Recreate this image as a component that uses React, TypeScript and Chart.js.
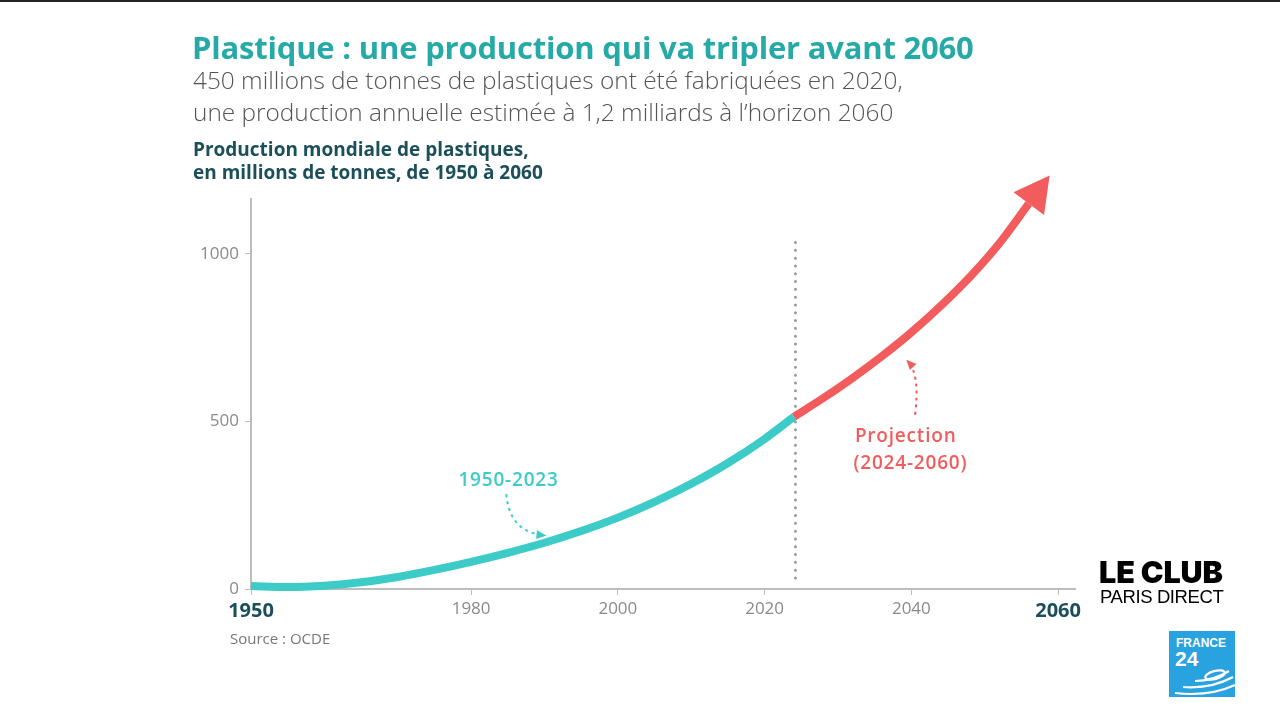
import React, { useEffect, useRef } from "react";
import { Chart, registerables } from "chart.js";

Chart.register(...registerables);

// ---- data ----
const histYears = [1950, 1955, 1960, 1965, 1970, 1975, 1980, 1985, 1990, 1995, 2000, 2005, 2010, 2015, 2020, 2024];
const histProd = [9, 6, 10, 20, 36, 57, 81, 108, 138, 173, 213, 260, 314, 376, 448, 514];
const projYears = [2024, 2028, 2032, 2036, 2040, 2044, 2048, 2052, 2056];
const projProd = [514, 570, 630, 695, 766, 845, 932, 1032, 1150];
const xTickYears = [1950, 1980, 2000, 2020, 2040, 2060];
const boldTickYears = [1950, 2060];
const yTickValues = [0, 500, 1000];
const splitYear = 2024.2;
const splitRange = [33, 1048];

const TEAL = "#3ccbc6";
const RED = "#f25c5c";
const DARK = "#1b4f5a";
const GRAY_TICK = "#8a8a8a";

const annotationPlugin = {
  id: "annotations",
  afterDatasetsDraw(chart: any) {
    const { ctx } = chart;
    const xs = chart.scales.x;
    const ys = chart.scales.y;
    const px = (v: number) => xs.getPixelForValue(v);
    const py = (v: number) => ys.getPixelForValue(v);

    // arrow head on projection
    const meta = chart.getDatasetMeta(1);
    const pts = meta.data;
    const last = pts[pts.length - 1];
    const fx = last.cp1x !== undefined ? last.cp1x : pts[pts.length - 2].x;
    const fy = last.cp1y !== undefined ? last.cp1y : pts[pts.length - 2].y;
    let dx = last.x - fx;
    let dy = last.y - fy;
    const len = Math.hypot(dx, dy) || 1;
    dx /= len;
    dy /= len;
    const L = 35;
    const W = 19;
    ctx.save();
    ctx.fillStyle = RED;
    ctx.beginPath();
    ctx.moveTo(last.x + dx * L, last.y + dy * L);
    ctx.lineTo(last.x - dy * W, last.y + dx * W);
    ctx.lineTo(last.x + dy * W, last.y - dx * W);
    ctx.closePath();
    ctx.fill();
    ctx.restore();

    const curvedArrow = (
      color: string,
      sx: number, sy: number,
      cx: number, cy: number,
      ex: number, ey: number
    ) => {
      ctx.save();
      ctx.strokeStyle = color;
      ctx.fillStyle = color;
      ctx.lineWidth = 2;
      ctx.setLineDash([3, 4]);
      ctx.beginPath();
      ctx.moveTo(sx, sy);
      ctx.quadraticCurveTo(cx, cy, ex, ey);
      ctx.stroke();
      ctx.setLineDash([]);
      let ax = ex - cx;
      let ay = ey - cy;
      const al = Math.hypot(ax, ay) || 1;
      ax /= al;
      ay /= al;
      const h = 8;
      const w = 4.5;
      ctx.beginPath();
      ctx.moveTo(ex + ax * 2, ey + ay * 2);
      ctx.lineTo(ex - ax * h - ay * w, ey - ay * h + ax * w);
      ctx.lineTo(ex - ax * h + ay * w, ey - ay * h - ax * w);
      ctx.closePath();
      ctx.fill();
      ctx.restore();
    };

    ctx.save();
    ctx.textBaseline = "middle";
    ctx.font = "600 19px 'Open Sans'";
    (ctx as any).letterSpacing = "0.8px";
    ctx.textAlign = "center";
    ctx.fillStyle = TEAL;
    ctx.fillText("1950-2023", px(1985.1), py(325));
    ctx.textAlign = "left";
    ctx.fillStyle = RED;
    ctx.fillText("Projection", px(2032.3), py(454));
    ctx.fillText("(2024-2060)", px(2032.1), py(373));
    ctx.restore();

    // 1950-2023 pointer
    curvedArrow(TEAL, px(1984.8), py(283), px(1985.2), py(170), px(1990.0), py(160));
    // projection pointer
    curvedArrow(RED, px(2040.5), py(520), px(2041.2), py(640), px(2039.5), py(680));
  },
};

function ChartCanvas() {
  const ref = useRef<HTMLCanvasElement | null>(null);
  useEffect(() => {
    if (!ref.current) return;
    const chart = new Chart(ref.current, {
      type: "line",
      data: {
        datasets: [
          {
            data: histYears.map((x, i) => ({ x, y: histProd[i] })),
            borderColor: TEAL,
            borderWidth: 8,
            pointRadius: 0,
            cubicInterpolationMode: "monotone",
            borderCapStyle: "butt",
            clip: false as any,
          },
          {
            data: projYears.map((x, i) => ({ x, y: projProd[i] })),
            borderColor: RED,
            borderWidth: 8,
            pointRadius: 0,
            cubicInterpolationMode: "monotone",
            borderCapStyle: "butt",
            clip: false as any,
          },
          {
            data: [
              { x: splitYear, y: splitRange[0] },
              { x: splitYear, y: splitRange[1] },
            ],
            borderColor: "#9a9a9a",
            borderWidth: 3,
            borderDash: [0, 7.8],
            borderCapStyle: "round",
            pointRadius: 0,
          },
        ],
      },
      options: {
        responsive: false,
        animation: false,
        events: [],
        layout: { padding: { left: 191, right: 205, top: 199, bottom: 71 } },
        plugins: {
          legend: { display: false },
          tooltip: { enabled: false },
          title: { display: false },
        },
        scales: {
          x: {
            type: "linear",
            min: 1950,
            max: 2062.3,
            afterFit: (s: any) => {
              s.height = 60;
            },
            afterBuildTicks: (s: any) => {
              s.ticks = xTickYears.map((v) => ({ value: v }));
            },
            grid: {
              display: true,
              drawOnChartArea: false,
              drawTicks: true,
              tickLength: 6,
              color: "#bdbdbd",
            },
            border: { display: true, color: "#bdbdbd", width: 2 },
            ticks: {
              padding: 4,
              autoSkip: false,
              maxRotation: 0,
              callback: (v: any) => String(v),
              color: (c: any) =>
                boldTickYears.includes(c.tick && c.tick.value) ? DARK : GRAY_TICK,
              font: (c: any) =>
                boldTickYears.includes(c.tick && c.tick.value)
                  ? { family: "'Open Sans'", size: 20, weight: "bold" }
                  : { family: "'Open Sans'", size: 17, weight: "normal" },
            },
          },
          y: {
            type: "linear",
            min: 0,
            max: 1164,
            afterFit: (s: any) => {
              s.width = 60;
            },
            afterBuildTicks: (s: any) => {
              s.ticks = yTickValues.map((v) => ({ value: v }));
            },
            grid: {
              display: true,
              drawOnChartArea: false,
              drawTicks: true,
              tickLength: 6,
              color: "#bdbdbd",
            },
            border: { display: true, color: "#bdbdbd", width: 2 },
            ticks: {
              padding: 6,
              color: GRAY_TICK,
              callback: (v: any) => String(v),
              font: { family: "'Open Sans'", size: 17 },
            },
          },
        },
      },
      plugins: [annotationPlugin],
    } as any);
    return () => chart.destroy();
  }, []);
  return (
    <canvas
      ref={ref}
      width={1280}
      height={720}
      style={{ position: "absolute", left: 0, top: 0, width: 1280, height: 720 }}
    />
  );
}

export default function App() {
  const font = "'Open Sans', sans-serif";
  return (
    <div
      style={{
        position: "absolute",
        left: 0,
        top: 0,
        width: 1280,
        height: 720,
        background: "#ffffff",
        overflow: "hidden",
        fontFamily: font,
      }}
    >
      <div style={{ position: "absolute", left: 0, top: 0, width: 1280, height: 2, background: "#222" }} />
      <ChartCanvas />
      <div
        style={{
          position: "absolute",
          left: 192,
          top: 25,
          fontSize: 31,
          fontWeight: 700,
          color: "#26aaa8",
          whiteSpace: "nowrap",
          letterSpacing: -0.2,
          lineHeight: "44px",
        }}
      >
        Plastique : une production qui va tripler avant 2060
      </div>
      <div
        style={{
          position: "absolute",
          left: 193,
          top: 64,
          fontSize: 24.4,
          fontWeight: 300,
          color: "#555",
          whiteSpace: "nowrap",
          lineHeight: "32px",
        }}
      >
        450 millions de tonnes de plastiques ont été fabriquées en 2020,
        <br />
        une production annuelle estimée à 1,2 milliards à l’horizon 2060
      </div>
      <div
        style={{
          position: "absolute",
          left: 193,
          top: 138,
          fontSize: 19,
          fontWeight: 700,
          color: DARK,
          whiteSpace: "nowrap",
          lineHeight: "23px",
        }}
      >
        Production mondiale de plastiques,
        <br />
        en millions de tonnes, de 1950 à 2060
      </div>
      <div
        style={{
          position: "absolute",
          left: 230,
          top: 627,
          fontSize: 15,
          color: "#777",
          whiteSpace: "nowrap",
          lineHeight: "22px",
        }}
      >
        Source : OCDE
      </div>
      <div
        style={{
          position: "absolute",
          left: 1099,
          top: 554,
          fontFamily: "Inter, 'Liberation Sans', sans-serif",
          fontSize: 30.5,
          fontWeight: 900,
          color: "#000",
          whiteSpace: "nowrap",
          letterSpacing: -0.1,
          lineHeight: "36px",
        }}
      >
        LE CLUB
      </div>
      <div
        style={{
          position: "absolute",
          left: 1100,
          top: 587,
          fontFamily: "'Liberation Sans', Arial, sans-serif",
          fontSize: 18.5,
          color: "#000",
          whiteSpace: "nowrap",
          letterSpacing: -0.4,
          lineHeight: "20px",
        }}
      >
        PARIS DIRECT
      </div>
      <svg
        width={66}
        height={66}
        viewBox="0 0 66 66"
        style={{ position: "absolute", left: 1169, top: 631 }}
      >
        <rect x={0} y={0} width={66} height={66} fill="#29a3df" />
        <text x={7} y={16} fill="#fff" fontFamily="'Liberation Sans', Arial" fontWeight="bold" fontSize={12}>
          FRANCE
        </text>
        <text x={6} y={35} fill="#fff" fontFamily="'Liberation Sans', Arial" fontWeight="bold" fontSize={21}>
          24
        </text>
        <g fill="none" stroke="#fff" strokeWidth={2.2}>
          <ellipse cx={46} cy={44} rx={10} ry={4} transform="rotate(-15 46 44)" />
          <path d="M26 50 Q44 50 60 40" />
          <path d="M14 56 Q42 58 64 46" />
          <path d="M6 62 Q40 66 66 54" />
        </g>
      </svg>
    </div>
  );
}
